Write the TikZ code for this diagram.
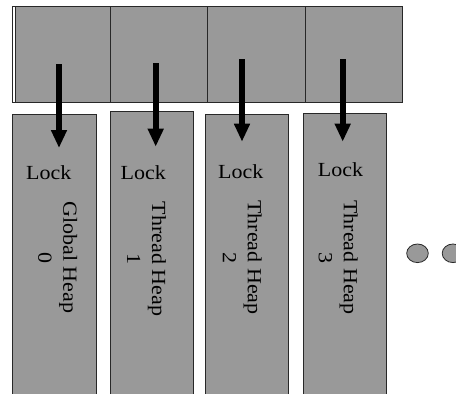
\documentclass[tikz,border=0pt]{standalone}
\usepackage{fontspec}
\setmainfont{Liberation Serif}[FakeStretch=1.1]
\usetikzlibrary{arrows.meta}
\definecolor{heapgray}{RGB}{153,153,153}
\definecolor{edgegray}{RGB}{40,40,40}
\tikzset{
  cellbox/.style={draw=edgegray,line width=0.8pt,fill=heapgray},
  heapbox/.style={draw=edgegray,line width=0.8pt,fill=heapgray},
  lbl/.style={inner sep=0pt,font=\fontsize{20}{25}\selectfont},
  heaplbl/.style={lbl,rotate=-90,align=center,anchor=center},
  ptr/.style={line width=6pt,-{Triangle[width=15pt,length=18pt]}},
  dot/.style={draw=edgegray,line width=0.8pt,fill=heapgray}
}
\begin{document}
\begin{tikzpicture}[x=1pt,y=-1pt]
\useasboundingbox (0,0) rectangle (456,394);
\clip (0,0) rectangle (456,394);

% array of heap pointers
\draw[draw=edgegray,line width=0.8pt,fill=white] (12.7,6.7) rectangle (402,102.3);
\draw[cellbox] (15,6.7) rectangle (110,102.3) node[pos=0.5] (c0) {};
\draw[cellbox] (110,6.7) rectangle (207.3,102.3) node[pos=0.5] (c1) {};
\draw[cellbox] (207.3,6.7) rectangle (305,102.3) node[pos=0.5] (c2) {};
\draw[cellbox] (305,6.7) rectangle (402,102.3) node[pos=0.5] (c3) {};

% heaps
\draw[heapbox] (12.7,114.3) rectangle (96,410) node[pos=0.5] (h0) {};
\draw[heapbox] (110.7,111.7) rectangle (193.7,410) node[pos=0.5] (h1) {};
\draw[heapbox] (205.7,114.3) rectangle (288.3,410) node[pos=0.5] (h2) {};
\draw[heapbox] (303.3,113.7) rectangle (386.7,410) node[pos=0.5] (h3) {};

% locks
\node[lbl,anchor=base west] (l0) at (26,179) {Lock};
\node[lbl,anchor=base west] (l1) at (120.5,179) {Lock};
\node[lbl,anchor=base west] (l2) at (218,178) {Lock};
\node[lbl,anchor=base west] (l3) at (317.7,176) {Lock};

% heap names
\node[heaplbl] (n0) at (57.6,257.5) {Global Heap\\0};
\node[heaplbl] (n1) at (146.5,259) {Thread Heap\\1};
\node[heaplbl] (n2) at (242.3,257.5) {Thread Heap\\2};
\node[heaplbl] (n3) at (338.3,257.5) {Thread Heap\\3};

% pointers from the array into each heap
\coordinate (s0) at (59,64);      \coordinate (t0) at (59,148);
\coordinate (s1) at (155.7,63);   \coordinate (t1) at (155.7,146.7);
\coordinate (s2) at (242,59);     \coordinate (t2) at (242,141.7);
\coordinate (s3) at (342.7,59);   \coordinate (t3) at (342.7,141.7);
\draw[ptr] (s0) -- (t0);
\draw[ptr] (s1) -- (t1);
\draw[ptr] (s2) -- (t2);
\draw[ptr] (s3) -- (t3);

% ellipsis
\draw[dot] (417.5,253.3) ellipse (10.8 and 9.3);
\draw[dot] (453,253.3) ellipse (10.8 and 9.3);
\end{tikzpicture}
\end{document}
